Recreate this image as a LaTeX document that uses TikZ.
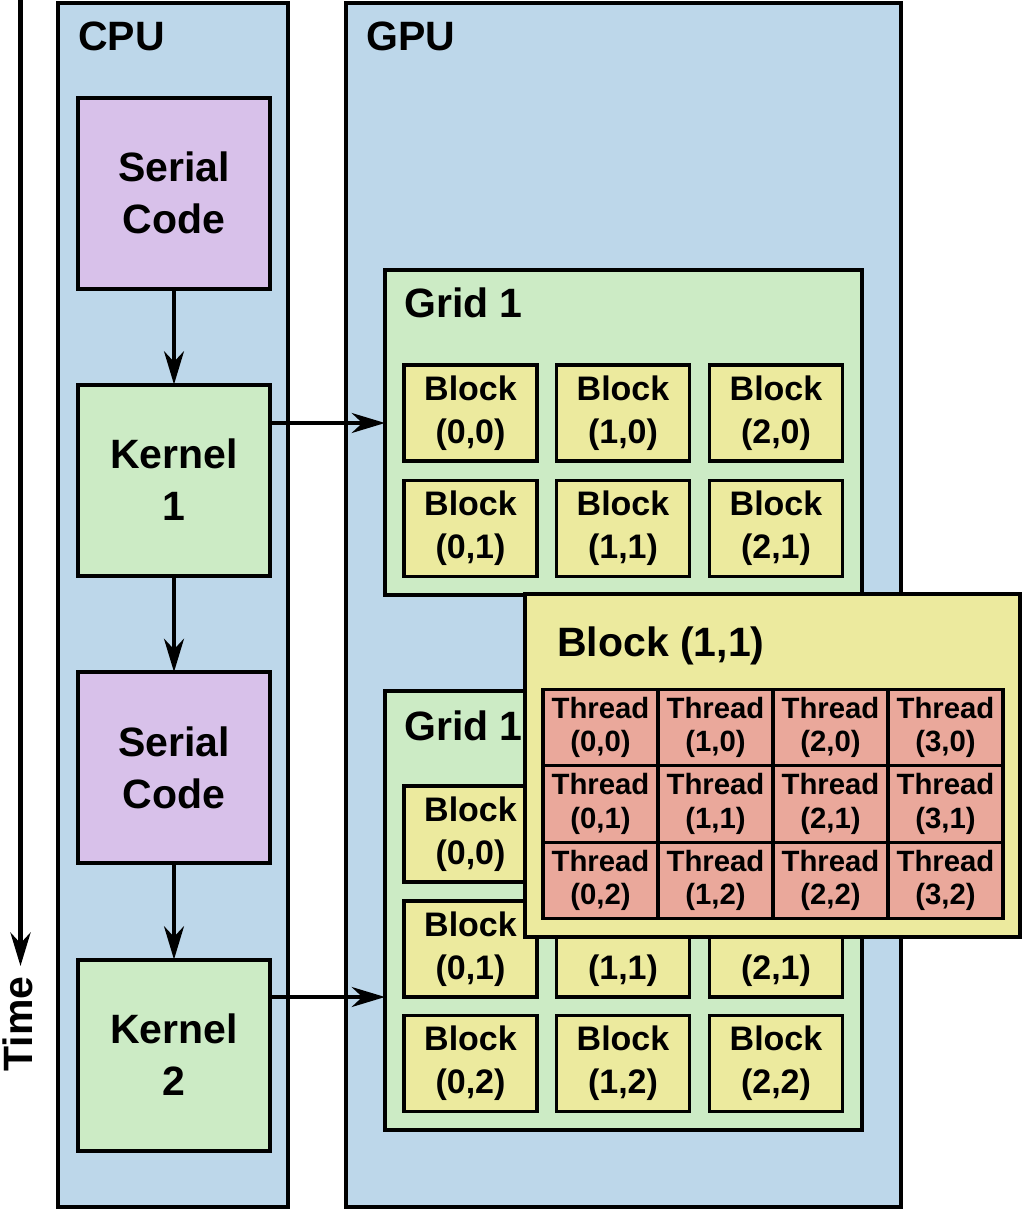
\documentclass[tikz,border=0pt]{standalone}
\usepackage{fontspec}
\setmainfont{Liberation Sans}
\usetikzlibrary{arrows.meta}
\definecolor{cblue}{RGB}{189,215,234}
\definecolor{cpurple}{RGB}{216,193,234}
\definecolor{cgreen}{RGB}{204,235,197}
\definecolor{cyellow}{RGB}{236,234,158}
\definecolor{cred}{RGB}{234,168,155}
\tikzset{
  box/.style={draw=black, line width=3pt, inner sep=0pt, outer sep=0pt, rectangle},
  bigtxt/.style={font=\fontsize{30.75}{39}\selectfont\bfseries, align=center},
  cpubox/.style={box, fill=cblue},
  codebox/.style={box, fill=cpurple, minimum width=144pt, minimum height=143.25pt, bigtxt},
  kernbox/.style={box, fill=cgreen, minimum width=144pt, minimum height=143.25pt, bigtxt},
  gridbox/.style={box, fill=cgreen},
  blockbox/.style={box, fill=cyellow, line width=2.6pt, minimum width=99.75pt, minimum height=72pt,
     font=\fontsize{25.5}{32}\selectfont\bfseries, align=center},
  threadbox/.style={box, fill=cred, line width=2.4pt, minimum width=86.25pt, minimum height=57.5pt,
     font=\fontsize{22}{25}\selectfont\bfseries, align=center},
  title/.style={anchor=base west, inner sep=0pt, font=\fontsize{30.75}{39}\selectfont\bfseries},
  arr/.style={line width=2.6pt, -{Stealth[length=25pt, width=15pt, inset=8pt]}},
}
\begin{document}
\begin{tikzpicture}[x=0.75pt, y=-0.75pt]
\useasboundingbox (0,0) rectangle (1024,1210);
\fill[white] (0,0) rectangle (1024,1210);

% containers
\node[cpubox, minimum width=172.5pt, minimum height=903pt] (cpu) at (173,605) {};
\node[cpubox, minimum width=416.25pt, minimum height=903pt] (gpu) at (623.5,605) {};
\node[title] (cpulbl) at (78,50) {CPU};
\node[title] (gpulbl) at (366,50) {GPU};

% CPU side
\node[codebox] (s1) at (174,193) {Serial\\Code};
\node[kernbox] (k1) at (174,480) {Kernel\\1};
\node[codebox] (s2) at (174,767.5) {Serial\\Code};
\node[kernbox] (k2) at (174,1055) {Kernel\\2};

\draw[arr] (s1.south) -- (k1.north);
\draw[arr] (k1.south) -- (s2.north);
\draw[arr] (s2.south) -- (k2.north);

% Grid 1 (top)
\node[gridbox, minimum width=357.75pt, minimum height=243.75pt] (g1) at (623.5,432.5) {};
\node[title] (g1lbl) at (404,317) {Grid 1};
\node[blockbox] (a00) at (470.5,413) {Block\\(0,0)};
\node[blockbox] (a10) at (623,413) {Block\\(1,0)};
\node[blockbox] (a20) at (776,413) {Block\\(2,0)};
\node[blockbox] (a01) at (470.5,528.5) {Block\\(0,1)};
\node[blockbox] (a11) at (623,528.5) {Block\\(1,1)};
\node[blockbox] (a21) at (776,528.5) {Block\\(2,1)};

% Grid 2 (bottom)
\node[gridbox, minimum width=357.75pt, minimum height=329.25pt] (g2) at (623.5,910.5) {};
\node[title] (g2lbl) at (404,740) {Grid 1};
\node[blockbox] (b00) at (470.5,834) {Block\\(0,0)};
\node[blockbox] (b10) at (623,834) {Block\\(1,0)};
\node[blockbox] (b20) at (776,834) {Block\\(2,0)};
\node[blockbox] (b01) at (470.5,949) {Block\\(0,1)};
\node[blockbox] (b11) at (623,949) {Block\\(1,1)};
\node[blockbox] (b21) at (776,949) {Block\\(2,1)};
\node[blockbox] (b02) at (470.5,1063.5) {Block\\(0,2)};
\node[blockbox] (b12) at (623,1063.5) {Block\\(1,2)};
\node[blockbox] (b22) at (776,1063.5) {Block\\(2,2)};

% kernel launches
\coordinate (k1out) at ([yshift=42.75pt]k1.east);
\coordinate (k2out) at ([yshift=43.5pt]k2.east);
\draw[arr] (k1out) -- (k1out -| g1.west);
\draw[arr] (k2out) -- (k2out -| g2.west);

% Block (1,1) detail
\node[box, fill=cyellow, minimum width=371.25pt, minimum height=257.25pt] (blk) at (772.5,765.5) {};
\node[title] (blklbl) at (557,656) {Block (1,1)};
\foreach \c/\x in {0/600.5,1/715.5,2/830.5,3/945.5}{
  \foreach \r/\y in {0/727.5,1/804,2/880.5}{
    \node[threadbox] (t\c\r) at (\x,\y) {Thread\\(\c,\r)};
  }
}

% time axis
\node[inner sep=0pt, rotate=90, font=\fontsize{30.75}{39}\selectfont\bfseries] (time) at (18,1024) {Time};
\coordinate (tstart) at (20.5,0);
\coordinate (tend) at (20.5,966);
\draw[line width=3.6pt, -{Stealth[length=25pt, width=15pt, inset=8pt]}] (tstart) -- (tend);
\end{tikzpicture}
\end{document}
